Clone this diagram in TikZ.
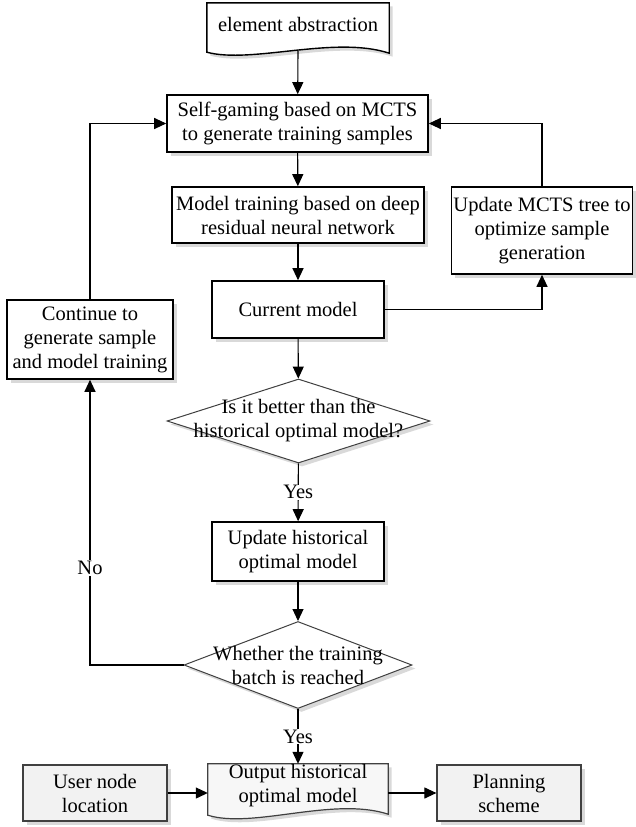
\documentclass[tikz,border=0pt]{standalone}
\usepackage{fontspec}
\setmainfont{Liberation Serif}
\usetikzlibrary{arrows.meta,shapes.geometric,shadows,calc}

\begin{document}
\begin{tikzpicture} [
            x=1pt, y=-1pt,
            font=\fontsize{20.5}{24}\selectfont,
            shade/.style = {drop shadow={shadow xshift=3.5pt,shadow yshift=-3.5pt,fill=black!15,opacity=1}},
            process/.style = {rectangle,draw=black,line width=1.6pt,fill=white,align=center,inner sep=2pt,shade},
            decision/.style = {diamond,draw=black!75,line width=1pt,fill=white,inner sep=0pt,shade},
            terminal/.style = {rectangle,draw=black!75,line width=1.2pt,fill=black!5,align=center,inner sep=2pt,shade},
            doctext/.style = {rectangle,align=center,inner sep=0pt},
            docline/.style = {line width=1.4pt,fill=white,shade},
            flow/.style = {draw,line width=1.1pt,-{Triangle[length=12pt,width=11pt]}},
            tag/.style = {fill=white,inner sep=1pt},
        ]
        \useasboundingbox (0,0) rectangle (635,827);
        % First the document shapes
        \node[doctext,minimum width=182,minimum height=42] (abstr) at (298,24) {};
        \filldraw[docline,draw=black] (abstr.north west) -- (abstr.north east) -- ($(abstr.south east)+(0,8)$)
            .. controls +(-55,-18) and +(45,12) .. ($(abstr.south west)+(0,7)$) -- cycle;
        \node[doctext] (abstrtext) at (abstr) {element abstraction};
        \coordinate (abstrend) at ($(abstr.south)+(0,6)$);
        \node[doctext,minimum width=180,minimum height=44] (output) at (298,786) {};
        \filldraw[docline,draw=black!75,line width=1.2pt,fill=black!3] (output.north west) -- (output.north east) -- ($(output.south east)+(0,6)$)
            .. controls +(-55,-18) and +(45,14) .. ($(output.south west)+(0,7)$) -- cycle;
        \node[doctext] (outtext) at (output) {Output historical\\optimal model};
        % Process boxes
        \foreach \pos/\name/\w/\h/\text in {
                {(297.5,123.5)/selfgame/261/57/Self-gaming based on MCTS\\to generate training samples},
                {(298,215)/training/252/56/Model training based on deep\\residual neural network},
                {(298,309.5)/current/172/57/Current model},
                {(542,230.5)/mcts/180/87/Update MCTS tree to\\optimize sample\\generation},
                {(90,339.5)/cont/166/79/Continue to\\generate sample\\and model training},
                {(298,551.5)/updhist/172/59/Update historical\\optimal model}}
            \node[process,minimum width=\w,minimum height=\h] (\name) at \pos {\text};
        % Decisions
        \node[decision,minimum width=263,minimum height=84] (better) at (298.5,421) {};
        \node[doctext] (bettertext) at (better) {Is it better than the\\historical optimal model?};
        \node[decision,minimum width=228,minimum height=87] (batch) at (298,665) {};
        \node[doctext] (batchtext) at (batch) {Whether the training\\batch is reached};
        % Bottom row
        \node[terminal,minimum width=144,minimum height=56] (user) at (95,793) {User node\\location};
        \node[terminal,minimum width=144,minimum height=56] (plan) at (509,793) {Planning\\scheme};
        % Connect the steps
        \path[flow] (abstrend) -- (selfgame);
        \foreach \source/\dest in {selfgame/training,training/current,current/better,updhist/batch}
            \path[flow] (\source) -- (\dest);
        \path[flow] (better) -- node[tag] {Yes} (updhist);
        \path[flow] (batch) -- node[tag] {Yes} (output);
        \path[flow] (batch.west) -| node[tag,pos=0.67] {No} (cont.south);
        \path[flow] (cont.north) |- (selfgame.west);
        \path[flow] (current.east) -| (mcts.south);
        \path[flow] (mcts.north) |- (selfgame.east);
        \path[flow] (user.east) -- (user.east -| output.west);
        \path[flow] (plan.west -| output.east) -- (plan.west);
    \end{tikzpicture}
\end{document}
